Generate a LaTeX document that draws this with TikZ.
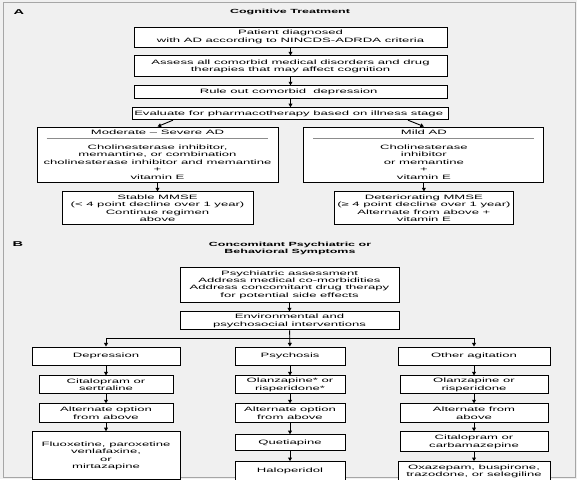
\documentclass[tikz,border=0pt]{standalone}
\usepackage{fontspec}
\setmainfont{Liberation Sans}[FakeStretch=2.08]
\usetikzlibrary{arrows.meta,positioning,calc}

\begin{document}
\begin{tikzpicture}[
  x=1pt, y=-1pt,
  font=\fontsize{6.3}{7.4}\selectfont,
  >={Triangle[length=3.6pt,width=3.8pt]},
  node distance=8pt,
  box/.style={
    draw,
    fill=white,
    line width=0.9pt,
    align=center,
    inner xsep=2pt,
    inner ysep=1pt
  },
  heading/.style={font=\fontsize{6}{7}\selectfont\bfseries, align=center},
  panel/.style={font=\fontsize{7}{8}\selectfont\bfseries},
  arrow/.style={->, line width=0.9pt},
  sepline/.style={draw=black!45, line width=0.6pt}
]

\path[use as bounding box, fill=black!6] (0,0) rectangle (577,479);
\draw[black!35, line width=0.8pt] (3,2.5) rectangle (575,477.5);

\node[panel] (labA) at (19,12) {A};
\node[heading] (titleA) at (290,12) {Cognitive Treatment};

\node[box, minimum width=313pt, minimum height=20pt] (patient) at (290.5,37) {
  Patient diagnosed\\
  with AD according to NINCDS-ADRDA criteria
};

\node[box, minimum width=313pt, minimum height=21pt, below=of patient] (assess) {
  Assess all comorbid medical disorders and drug\\
  therapies that may affect cognition
};

\node[box, minimum width=313pt, minimum height=13pt, below=of assess] (ruleout) {
  Rule out comorbid\ \ depression
};

\node[box, minimum width=313pt, minimum height=12pt, below=of ruleout] (evaluate) {
  Evaluate for pharmacotherapy based on illness stage
};

\node[box, minimum width=241pt, minimum height=55pt] (moderate) at (157.5,154.5) {
  Moderate -- Severe AD\\[7.6pt]
  Cholinesterase inhibitor,\\
  memantine, or combination\\
  cholinesterase inhibitor and memantine\\
  +\\
  vitamin E
};

\node[box, minimum width=240pt, minimum height=55pt, right=25pt of moderate] (mild) {
  Mild AD\\[7.6pt]
  Cholinesterase\\
  inhibitor\\
  or memantine\\
  +\\
  vitamin E
};

\node[box, minimum width=191pt, minimum height=33pt, below=9pt of moderate] (stable) {
  Stable MMSE\\
  (< 4 point decline over 1 year)\\
  Continue regimen\\
  above
};

\node[box, minimum width=179pt, minimum height=33pt, below=9pt of mild] (deter) {
  Deteriorating MMSE\\
  (≥ 4 point decline over 1 year)\\
  Alternate from above +\\
  vitamin E
};

\draw[sepline] ($(moderate.north west)+(10,12)$) -- ($(moderate.north east)+(-10,12)$);
\draw[sepline] ($(mild.north west)+(10,12)$) -- ($(mild.north east)+(-10,12)$);

\draw[arrow] (patient) -- (assess);
\draw[arrow] (assess) -- (ruleout);
\draw[arrow] (ruleout) -- (evaluate);
\draw[arrow] ($(evaluate.south west)!0.13!(evaluate.south east)$) -- (moderate.north);
\draw[arrow] ($(evaluate.south west)!0.87!(evaluate.south east)$) -- (mild.north);
\draw[arrow] (moderate) -- (stable);
\draw[arrow] (mild) -- (deter);

\node[panel] (labB) at (18,244) {B};
\node[heading] (titleB) at (290,248.5) {
  Concomitant Psychiatric or\\
  Behavioral Symptoms
};

\node[box, minimum width=219pt, minimum height=35pt] (psychassess) at (289.5,284.5) {
  Psychiatric assessment\\
  Address medical co-morbidities\\
  Address concomitant drug therapy\\
  for potential side effects
};

\node[box, minimum width=219pt, minimum height=18pt, below=9pt of psychassess] (environ) {
  Environmental and\\
  psychosocial interventions
};

\coordinate (split) at ($(environ.south)+(0,8)$);

\node[box, minimum width=148pt, minimum height=18pt] (depr) at (106,356) {Depression};
\node[box, minimum width=134pt, minimum height=18pt, below=10pt of depr] (deprA) {
  Citalopram or\\
  sertraline
};
\node[box, minimum width=134pt, minimum height=19pt, below=9pt of deprA] (deprB) {
  Alternate option\\
  from above
};
\node[box, minimum width=148pt, minimum height=48pt, below=8pt of deprB] (deprC) {
  Fluoxetine, paroxetine\\
  venlafaxine,\\
  or\\
  mirtazapine
};

\node[box, minimum width=110pt, minimum height=18pt] (psyc) at (290,356) {Psychosis};
\node[box, minimum width=110pt, minimum height=18pt, below=10pt of psyc] (psycA) {
  Olanzapine* or\\
  risperidone*
};
\node[box, minimum width=110pt, minimum height=19pt, below=9pt of psycA] (psycB) {
  Alternate option\\
  from above
};
\node[box, minimum width=110pt, minimum height=16pt, below=11pt of psycB] (psycC) {Quetiapine};
\node[box, minimum width=110pt, minimum height=19pt, below=10pt of psycC] (psycD) {Haloperidol};

\node[box, minimum width=152pt, minimum height=18pt] (agit) at (474,356) {Other agitation};
\node[box, minimum width=148pt, minimum height=18pt, below=10pt of agit] (agitA) {
  Olanzapine or\\
  risperidone
};
\node[box, minimum width=148pt, minimum height=19pt, below=9pt of agitA] (agitB) {
  Alternate from\\
  above
};
\node[box, minimum width=148pt, minimum height=20pt, below=8pt of agitB] (agitC) {
  Citalopram or\\
  carbamazepine
};
\node[box, minimum width=152pt, minimum height=19pt, below=9pt of agitC] (agitD) {
  Oxazepam, buspirone,\\
  trazodone, or selegiline
};

\draw[arrow] (psychassess) -- (environ);
\draw[line width=0.9pt] (depr.north |- split) -- (agit.north |- split);
\draw[arrow] (environ) -- (psyc);
\draw[arrow] (depr.north |- split) -- (depr);
\draw[arrow] (agit.north |- split) -- (agit);

\draw[arrow] (depr) -- (deprA);
\draw[arrow] (deprA) -- (deprB);
\draw[arrow] (deprB) -- (deprC);
\draw[arrow] (psyc) -- (psycA);
\draw[arrow] (psycA) -- (psycB);
\draw[arrow] (psycB) -- (psycC);
\draw[arrow] (psycC) -- (psycD);
\draw[arrow] (agit) -- (agitA);
\draw[arrow] (agitA) -- (agitB);
\draw[arrow] (agitB) -- (agitC);
\draw[arrow] (agitC) -- (agitD);

\end{tikzpicture}
\end{document}
